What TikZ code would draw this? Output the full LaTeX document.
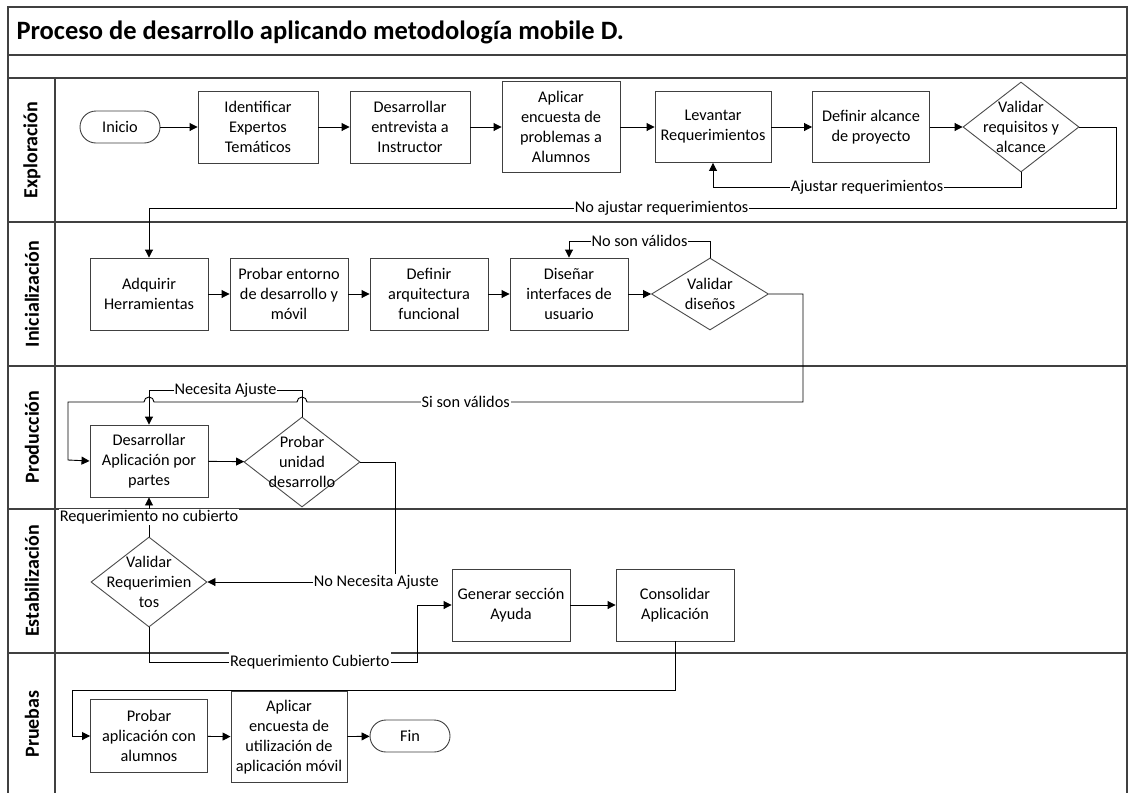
\documentclass[tikz,border=0pt]{standalone}
\usepackage{fontspec}
\setmainfont{Carlito}
\usetikzlibrary{arrows.meta,shapes.geometric,calc}
\begin{document}
\begin{tikzpicture}[x=1pt,y=-1pt,
  lane/.style={draw=black!75,line width=1.6pt},
  box/.style={draw=black!75,line width=0.9pt,fill=white,align=center,
    font=\fontsize{16.3}{20}\selectfont,inner sep=1pt,minimum width=118pt,minimum height=72pt},
  term/.style={box,rounded corners=16pt,minimum width=80pt,minimum height=32pt},
  dia/.style={draw=black!70,line width=0.9pt,fill=white,diamond,inner sep=0pt,
    minimum width=116pt,minimum height=90pt},
  dtext/.style={align=center,font=\fontsize{16.3}{20}\selectfont,inner sep=0pt},
  conn/.style={draw=black,line width=0.9pt},
  arr/.style={conn,-{Triangle[length=8pt,width=8pt]}},
  lbl/.style={fill=white,font=\fontsize{16.3}{18}\selectfont,inner sep=1pt},
  lanelbl/.style={rotate=90,font=\bfseries\fontsize{20}{22}\selectfont}
]
\useasboundingbox (0,0) rectangle (1128,793);
\fill[white] (0,0) rectangle (1128,793);

% frame and lanes
\draw[lane] (8,793) -- (8,7) -- (1127,7) -- (1127,793);
\foreach \yy in {55,78,222,366,509,653}
  \draw[lane] (8,\yy) -- (1127,\yy);
\draw[lane] (55,78) -- (55,793);

\node[anchor=west,font=\bfseries\fontsize{26.5}{30}\selectfont] (title) at (13,32) {Proceso de desarrollo aplicando metodología mobile D.};

\node[lanelbl] (l1) at (32,150) {Exploración};
\node[lanelbl] (l2) at (32,294) {Inicialización};
\node[lanelbl] (l3) at (32,437) {Producción};
\node[lanelbl] (l4) at (32,581) {Estabilización};
\node[lanelbl] (l5) at (32,724) {Pruebas};

% Exploración
\node[term] (ini) at (120,127) {Inicio};
\node[box,minimum width=120pt] (ide) at (258,127) {Identificar\\Expertos\\Temáticos};
\node[box,minimum width=120pt] (des) at (410,127) {Desarrollar\\entrevista a\\Instructor};
\node[box,minimum height=91pt] (apl) at (561,127) {Aplicar\\encuesta de\\problemas a\\Alumnos};
\node[box,minimum width=116pt,minimum height=71pt] (lev) at (713,127) {Levantar\\Requerimientos};
\node[box,minimum width=117pt,minimum height=71pt] (def) at (871,127) {Definir alcance\\de proyecto};
\node[dia] (vr) at (1021,127) {};
\node[dtext] (vrt) at (vr.center) {Validar\\requisitos y\\alcance};

% Inicialización
\node[box] (adq) at (149,294) {Adquirir\\Herramientas};
\node[box] (pen) at (289,294) {Probar entorno\\de desarrollo y\\móvil};
\node[box] (arq) at (429,294) {Definir\\arquitectura\\funcional};
\node[box] (dis) at (569,294) {Diseñar\\interfaces de\\usuario};
\node[dia,minimum width=117pt,minimum height=72pt] (vd) at (710,294) {};
\node[dtext] (vdt) at (vd.center) {Validar\\diseños};

% Producción
\node[box] (dap) at (149,461) {Desarrollar\\Aplicación por\\partes};
\node[dia] (pud) at (302,462) {};
\node[dtext] (pudt) at (pud.center) {Probar\\unidad\\desarrollo};

% Estabilización
\node[dia] (vrq) at (149,582) {};
\node[dtext] (vrqt) at (vrq.center) {Validar\\Requerimien\\tos};
\node[box] (gen) at (511,605) {Generar sección\\Ayuda};
\node[box] (con) at (675,605) {Consolidar\\Aplicación};

% Pruebas
\node[box,minimum width=117pt,minimum height=73pt] (pap) at (149,736) {Probar\\aplicación con\\alumnos};
\node[box,minimum width=116pt,minimum height=91pt] (aeu) at (289,737) {Aplicar\\encuesta de\\utilización de\\aplicación móvil};
\node[term] (fin) at (410,736) {Fin};

% routing coordinates
\coordinate (yA) at (0,187);
\coordinate (yB) at (1116,208);
\coordinate (yC) at (0,241);
\coordinate (s1) at (803,402);
\coordinate (s2) at (68,460);
\coordinate (yN) at (0,390);
\coordinate (nn) at (395,582);
\coordinate (yR) at (417,662);
\coordinate (yP) at (72,690);

% Exploración connectors
\draw[arr] (ini) -- (ide);
\draw[arr] (ide) -- (des);
\draw[arr] (des) -- (apl);
\draw[arr] (apl) -- (lev);
\draw[arr] (lev) -- (def);
\draw[arr] (def) -- (vr);
\draw[arr] (vr.south) -- (vr.south |- yA) -- node[lbl,pos=0.5]{Ajustar requerimientos} (lev.south |- yA) -- (lev.south);
\draw[arr] (vr.east) -| (yB) -- node[lbl,pos=0.47]{No ajustar requerimientos} (adq.north |- yB) -- (adq.north);

% Inicialización connectors
\draw[arr] (adq) -- (pen);
\draw[arr] (pen) -- (arq);
\draw[arr] (arq) -- (dis);
\draw[arr] (dis) -- (vd);
\draw[arr] (vd.north) -- (vd.north |- yC) -- node[lbl]{No son válidos} (dis.north |- yC) -- (dis.north);
\draw[arr] (vd.east) -| (s1) -- node[lbl,pos=0.68]{Si son válidos} ($(pud.north |- s1)+(5,0)$)
  arc[start angle=0,end angle=180,radius=5pt] -- ($(dap.north |- s1)+(5,0)$)
  arc[start angle=0,end angle=180,radius=5pt] -- (s2 |- s1) -- (s2) -- (dap.west);

% Producción connectors
\draw[arr] (dap) -- (pud);
\draw[arr] (pud.north) -- (pud.north |- yN) -- node[lbl]{Necesita Ajuste} (dap.north |- yN) -- (dap.north);
\draw[arr] (pud.east) -| (nn) -- node[lbl,pos=0.1]{No Necesita Ajuste} (vrq.east);
\draw[arr] (vrq.north) -- node[lbl]{Requerimiento no cubierto} (dap.south);
\draw[arr] (vrq.south) |- node[lbl,pos=0.8,minimum height=20pt]{Requerimiento Cubierto} (yR) |- (gen.west);
\draw[arr] (gen) -- (con);
\draw[arr] (con.south) |- (yP) |- (pap.west);

% Pruebas connectors
\draw[arr] (pap) -- (aeu);
\draw[arr] (aeu) -- (fin);
\end{tikzpicture}
\end{document}
